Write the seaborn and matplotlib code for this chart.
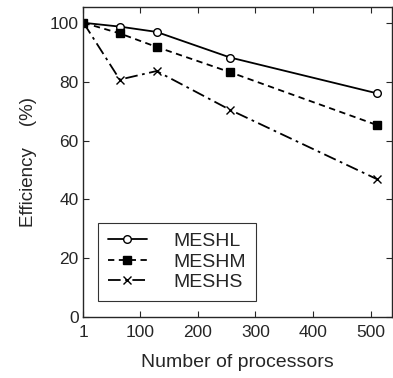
import matplotlib
matplotlib.use("Agg")
import matplotlib.pyplot as plt
import seaborn as sns
import pandas as pd

processors = [1, 64, 128, 256, 512]
meshl = [100, 98.7, 96.9, 88.2, 76.0]
meshm = [100, 96.4, 91.8, 83.2, 65.2]
meshs = [100, 80.7, 83.6, 70.4, 46.8]
series_names = ["MESHL", "MESHM", "MESHS"]
xticks = [1, 100, 200, 300, 400, 500]
yticks = [0, 20, 40, 60, 80, 100]

sns.set_style("ticks")
plt.rcParams["font.family"] = ["Liberation Sans", "DejaVu Sans"]

fig = plt.figure(figsize=(3.93, 3.78), dpi=100)
ax = fig.add_axes([0.211, 0.161, 0.786, 0.820])

styles = [
    dict(linestyle="-", marker="o", markerfacecolor="white", markeredgecolor="black"),
    dict(linestyle=(0, (3.5, 2.5)), marker="s", markerfacecolor="black", markeredgecolor="black"),
    dict(linestyle=(0, (7, 2.5, 1.5, 2.5)), marker="x", markerfacecolor="black", markeredgecolor="black"),
]
for name, vals, st in zip(series_names, [meshl, meshm, meshs], styles):
    df = pd.DataFrame({"p": processors, "e": vals})
    sns.lineplot(data=df, x="p", y="e", ax=ax, color="black", linewidth=1.3,
                 markersize=5.5, markeredgewidth=1.0, label=name, **st)

ax.set_xlim(0, 537)
ax.set_ylim(0, 105.3)
ax.set_xticks(xticks)
ax.set_xticklabels([str(t) for t in xticks])
ax.set_yticks(yticks)
ax.tick_params(direction="in", top=True, right=True, labelsize=12.5, length=4, width=0.8)
ax.tick_params(axis="y", pad=3)
ax.tick_params(axis="x", pad=6)
for s in ax.spines.values():
    s.set_linewidth(1.0)
ax.set_xlabel("Number of processors", fontsize=14, labelpad=10)
ax.set_ylabel("Efficiency    (%)", fontsize=13.5, labelpad=9)

leg = ax.legend(loc="lower left", bbox_to_anchor=(0.0485, 0.052), borderaxespad=0,
                fontsize=14, frameon=True, fancybox=False, edgecolor="black",
                handlelength=2.0, handletextpad=1.4, labelspacing=0.15,
                borderpad=0.5)
leg.get_frame().set_linewidth(0.8)

fig.savefig("out.png", dpi=100)
